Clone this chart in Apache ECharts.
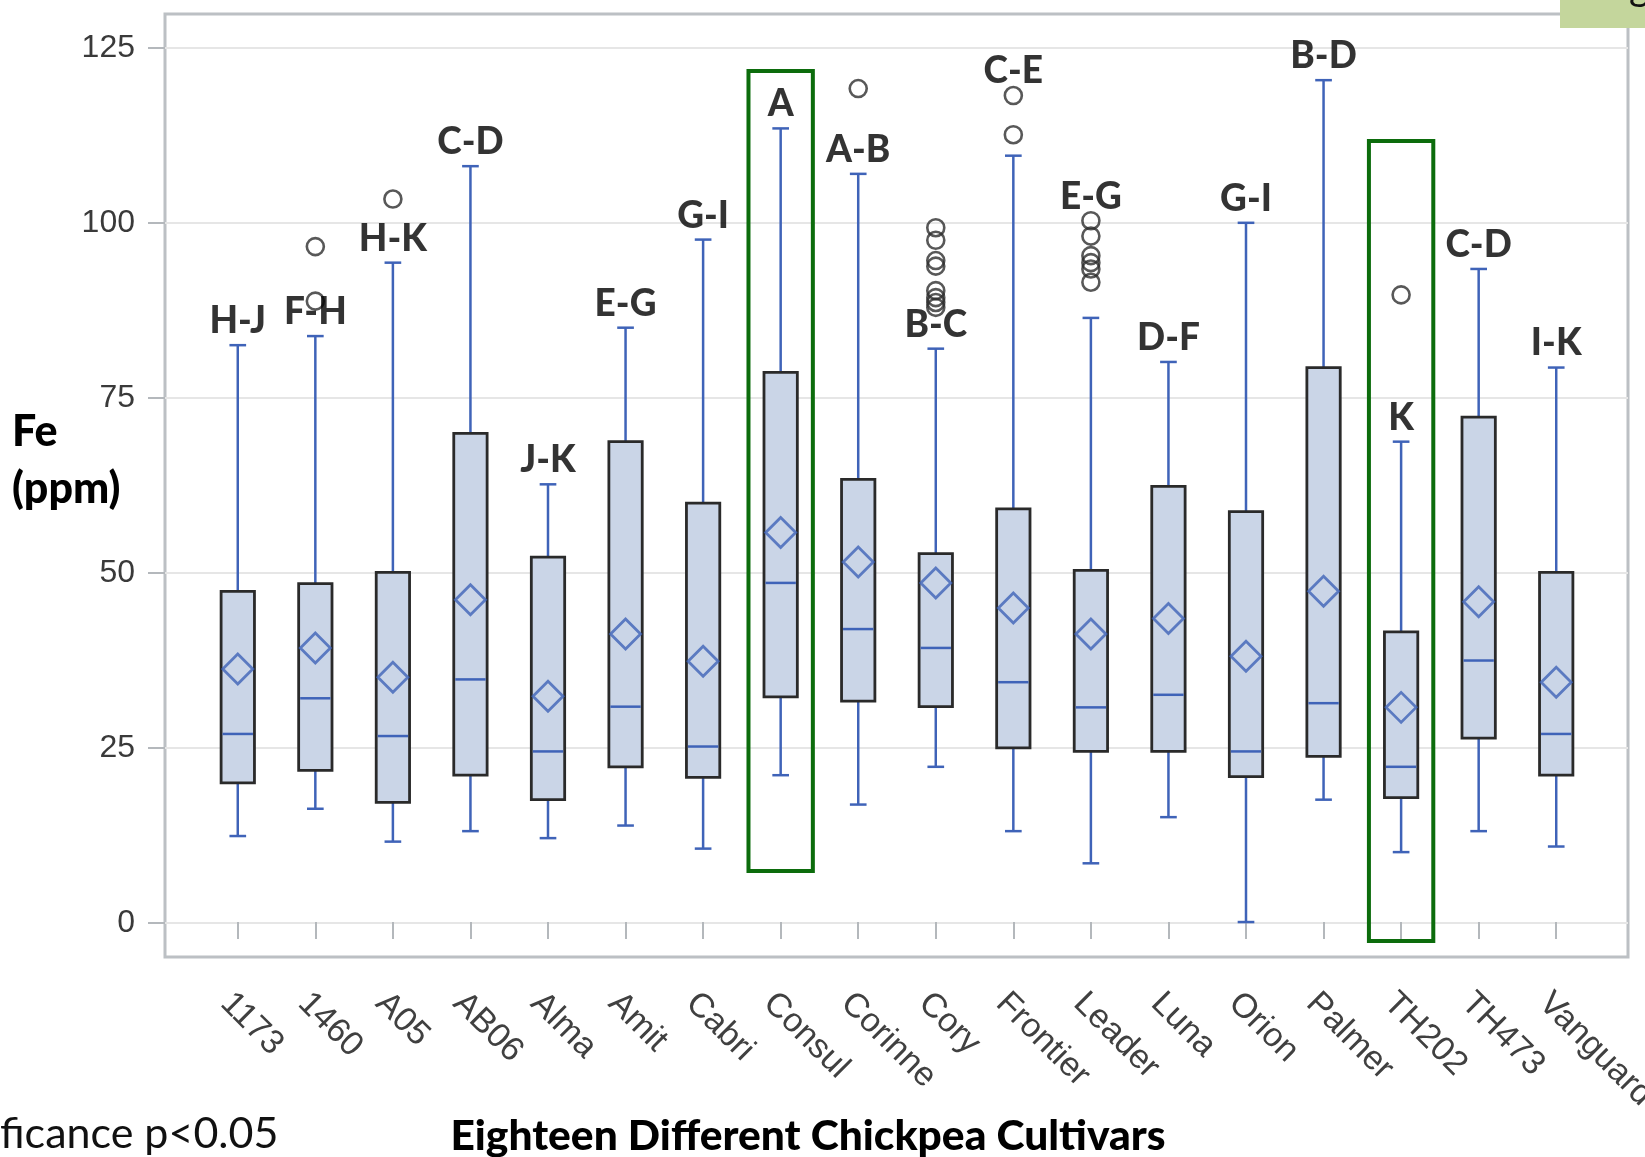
<!DOCTYPE html>
<html>
<head>
<meta charset="utf-8">
<script src="https://cdn.jsdelivr.net/npm/echarts@6/dist/echarts.min.js"></script>
<style>
html,body{margin:0;padding:0;background:#fff;}
#chart{width:1645px;height:1157px;}
</style>
</head>
<body>
<div id="chart"></div>
<script>
// ---- data ----
const cultivars = ['1173','1460','A05','AB06','Alma','Amit','Cabri','Consul','Corinne','Cory','Frontier','Leader','Luna','Orion','Palmer','TH202','TH473','Vanguard'];
const whiskerLow  = [12.3, 16.2, 11.5, 13.0, 12.0, 13.8, 10.5, 21.0, 16.8, 22.2, 13.0,  8.4, 15.0,  0.0, 17.5, 10.0, 13.0, 10.8];
const q1          = [19.9, 21.7, 17.1, 21.0, 17.5, 22.2, 20.7, 32.2, 31.6, 30.8, 24.9, 24.4, 24.4, 20.8, 23.7, 17.8, 26.3, 21.0];
const medians     = [26.9, 32.0, 26.6, 34.7, 24.4, 30.8, 25.1, 48.5, 41.9, 39.2, 34.3, 30.7, 32.5, 24.4, 31.3, 22.2, 37.4, 26.9];
const q3          = [47.3, 48.4, 50.0, 69.9, 52.2, 68.7, 59.9, 78.6, 63.3, 52.7, 59.1, 50.3, 62.3, 58.7, 79.3, 41.5, 72.2, 50.0];
const whiskerHigh = [82.5, 83.8, 94.3,108.1, 62.6, 85.0, 97.6,113.5,107.0, 82.0,109.6, 86.4, 80.1,100.0,120.4, 68.7, 93.4, 79.3];
const means       = [36.2, 39.2, 35.0, 46.1, 32.3, 41.2, 37.3, 55.7, 51.5, 48.5, 44.9, 41.2, 43.4, 38.0, 47.3, 30.7, 45.8, 34.3];
const groupLetters = ['H-J','F-H','H-K','C-D','J-K','E-G','G-I','A','A-B','B-C','C-E','E-G','D-F','G-I','B-D','K','C-D','I-K'];
const lettersAboveOutliers = ['Frontier','Leader'];
const outlierCultivar = ['1460','1460','A05','Corinne','Cory','Cory','Cory','Cory','Cory','Cory','Cory','Cory','Frontier','Frontier','Leader','Leader','Leader','Leader','Leader','Leader','TH202'];
const outlierValue    = [96.6, 88.8, 103.4, 119.2, 99.3, 97.5, 94.6, 93.8, 90.3, 89.3, 88.6, 87.9, 118.2, 112.6, 100.3, 98.1, 95.3, 94.3, 93.4, 91.5, 89.7];
const highlightCultivar = ['Consul','TH202'];
const highlightLow      = [7.3, -2.7];
const highlightHigh     = [121.7, 111.7];
const yTicks = [0, 25, 50, 75, 100, 125];

// ---- chart ----
const blue = '#3f63b8';
const chart = echarts.init(document.getElementById('chart'), null, {renderer: 'canvas'});

const boxData = cultivars.map((c, i) => [i, whiskerLow[i], q1[i], medians[i], q3[i], whiskerHigh[i]]);
const meanData = cultivars.map((c, i) => [i, means[i]]);
const outlierData = outlierCultivar.map((c, k) => [cultivars.indexOf(c), outlierValue[k]]);
const letterData = cultivars.map((c, i) => {
  let anchor = whiskerHigh[i];
  if (lettersAboveOutliers.indexOf(c) >= 0) {
    outlierCultivar.forEach((oc, k) => { if (oc === c) anchor = Math.max(anchor, outlierValue[k]); });
  }
  return [i, anchor, groupLetters[i]];
});
const highlightData = highlightCultivar.map((c, k) => [cultivars.indexOf(c), highlightLow[k], highlightHigh[k]]);

const option = {
  animation: false,
  backgroundColor: '#ffffff',
  grid: [
    {left: 165, right: 17, top: 48, bottom: 234, show: false, outerBoundsMode: 'none', containLabel: false},
    {left: 165, right: 17, top: 14, bottom: 200, show: true, borderColor: '#bcc0c4', borderWidth: 3, backgroundColor: 'transparent', outerBoundsMode: 'none', containLabel: false},
    {left: 199, right: 50, top: 48, bottom: 200, show: false, outerBoundsMode: 'none', containLabel: false}
  ],
  xAxis: [
    {gridIndex: 0, type: 'value', show: false, min: 0, max: 1},
    {gridIndex: 1, type: 'value', show: false, min: 0, max: 1},
    {gridIndex: 2, type: 'category', data: cultivars, boundaryGap: true,
      axisLine: {show: false},
      axisTick: {show: true, alignWithLabel: true, length: 17, lineStyle: {color: '#b4b8bc', width: 2}},
      axisLabel: {rotate: -45, margin: 29, verticalAlign: 'top', fontSize: 34, color: '#404040', fontFamily: 'Liberation Sans, Arial, sans-serif', interval: 0, hideOverlap: false},
      splitLine: {show: false}
    }
  ],
  yAxis: [
    {gridIndex: 0, type: 'value', min: yTicks[0], max: yTicks[yTicks.length - 1], interval: 25,
      axisLine: {show: false},
      axisTick: {show: true, length: 17, lineStyle: {color: '#b4b8bc', width: 2}},
      axisLabel: {fontSize: 32, color: '#3a3a3a', margin: 30, fontFamily: 'Liberation Sans, Arial, sans-serif'},
      splitLine: {show: true, lineStyle: {color: '#e6e6e6', width: 2}}
    },
    {gridIndex: 1, type: 'value', show: false, min: 0, max: 1},
    {gridIndex: 2, type: 'value', show: false, min: -5, max: 125}
  ],
  series: [
    {
      type: 'custom', xAxisIndex: 2, yAxisIndex: 2, silent: true, clip: false, z: 3,
      data: boxData,
      renderItem: function (params, api) {
        const x = api.value(0);
        const band = api.size([1, 0])[0];
        const bw = band * 0.43;
        const cw = band * 0.215;
        const pLow = api.coord([x, api.value(1)]);
        const pQ1 = api.coord([x, api.value(2)]);
        const pMed = api.coord([x, api.value(3)]);
        const pQ3 = api.coord([x, api.value(4)]);
        const pHigh = api.coord([x, api.value(5)]);
        const cx = pLow[0];
        const ls = {stroke: blue, lineWidth: 2.5};
        return {
          type: 'group',
          children: [
            {type: 'line', shape: {x1: cx, y1: pHigh[1], x2: cx, y2: pQ3[1]}, style: ls},
            {type: 'line', shape: {x1: cx, y1: pQ1[1], x2: cx, y2: pLow[1]}, style: ls},
            {type: 'line', shape: {x1: cx - cw / 2, y1: pHigh[1], x2: cx + cw / 2, y2: pHigh[1]}, style: ls},
            {type: 'line', shape: {x1: cx - cw / 2, y1: pLow[1], x2: cx + cw / 2, y2: pLow[1]}, style: ls},
            {type: 'rect', shape: {x: cx - bw / 2, y: pQ3[1], width: bw, height: pQ1[1] - pQ3[1]},
              style: {fill: '#cad5e7', stroke: '#2a2a2a', lineWidth: 2.8}},
            {type: 'line', shape: {x1: cx - bw / 2 + 1.5, y1: pMed[1], x2: cx + bw / 2 - 1.5, y2: pMed[1]}, style: ls}
          ]
        };
      }
    },
    {
      type: 'scatter', xAxisIndex: 2, yAxisIndex: 2, silent: true, z: 4,
      data: meanData, symbol: 'diamond', symbolSize: [30, 30],
      itemStyle: {color: 'rgba(0,0,0,0)', borderColor: blue, borderWidth: 2.8}
    },
    {
      type: 'scatter', xAxisIndex: 2, yAxisIndex: 2, silent: true, z: 4,
      data: outlierData, symbol: 'circle', symbolSize: 17,
      itemStyle: {color: 'rgba(255,255,255,0)', borderColor: '#2e2e2e', borderWidth: 2.6}
    },
    {
      type: 'scatter', xAxisIndex: 2, yAxisIndex: 2, silent: true, z: 5,
      data: letterData, symbolSize: 1,
      itemStyle: {color: 'rgba(0,0,0,0)'},
      label: {show: true, position: 'top', distance: 5,
        formatter: function (p) { return p.value[2]; },
        fontSize: 37, fontWeight: 900, color: '#000', fontFamily: 'Lato, "Open Sans", sans-serif'}
    },
    {
      type: 'custom', xAxisIndex: 2, yAxisIndex: 2, silent: true, clip: false, z: 6,
      data: highlightData,
      renderItem: function (params, api) {
        const x = api.value(0);
        const band = api.size([1, 0])[0];
        const w = band * 0.83;
        const pLo = api.coord([x, api.value(1)]);
        const pHi = api.coord([x, api.value(2)]);
        return {type: 'rect', shape: {x: pLo[0] - w / 2, y: pHi[1], width: w, height: pLo[1] - pHi[1]},
          style: {fill: 'none', stroke: '#0c6c0c', lineWidth: 4}};
      }
    }
  ],
  graphic: [
    {type: 'text', left: 12, top: 404, style: {text: 'Fe\n(ppm)', fontSize: 43, fontWeight: 900, fill: '#000', fontFamily: 'Lato, "Open Sans", sans-serif', lineHeight: 57}},
    {type: 'text', x: 808, y: 1136, style: {text: 'Eighteen Different Chickpea Cultivars', fontSize: 42.5, fontWeight: 900, fill: '#000', fontFamily: 'Lato, "Open Sans", sans-serif', textAlign: 'center', textVerticalAlign: 'middle'}},
    {type: 'text', x: 0, y: 1134, style: {text: 'ficance p<0.05', fontSize: 43, fill: '#111', fontFamily: 'Lato, "Open Sans", sans-serif', textAlign: 'left', textVerticalAlign: 'middle'}},
    {type: 'rect', shape: {x: 1560, y: 0, width: 85, height: 28}, style: {fill: '#c4d69c'}},
    {type: 'text', x: 1598, y: 7, style: {text: 'Sig', fontSize: 40, fill: '#111', fontFamily: 'Lato, sans-serif', textAlign: 'left', textVerticalAlign: 'bottom'}}
  ]
};
chart.setOption(option);
</script>
</body>
</html>
